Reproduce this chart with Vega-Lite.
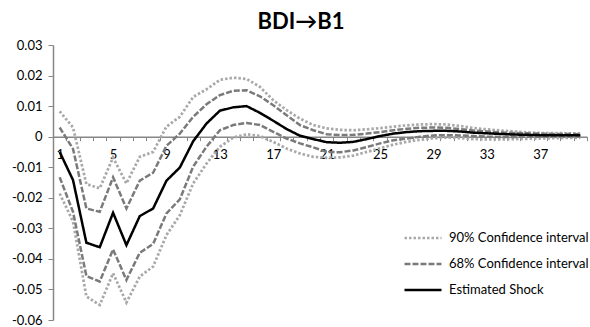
{
  "$schema": "https://vega.github.io/schema/vega-lite/v6.json",
  "width": 534,
  "height": 275,
  "autosize": {"type": "none"},
  "padding": {"left": 53, "top": 45, "right": 3, "bottom": 7},
  "background": "white",
  "title": {"text": "BDI→B1", "font": "Lato", "fontSize": 22, "fontWeight": "bold", "color": "black", "anchor": "middle", "frame": "group", "offset": 14, "baseline": "bottom", "dx": -19, "dy": 31},
  "config": {"view": {"stroke": null}, "font": "Lato"},
  "data": {"values": [
    {"t": 1, "s": -0.005, "u68": 0.003, "l68": -0.0133, "u90": 0.0083, "l90": -0.0186},
    {"t": 2, "s": -0.0142, "u68": -0.004, "l68": -0.0246, "u90": 0.003, "l90": -0.0278},
    {"t": 3, "s": -0.0347, "u68": -0.0235, "l68": -0.0456, "u90": -0.0155, "l90": -0.0523},
    {"t": 4, "s": -0.0362, "u68": -0.0246, "l68": -0.0474, "u90": -0.0169, "l90": -0.0551},
    {"t": 5, "s": -0.0249, "u68": -0.0133, "l68": -0.0369, "u90": -0.0068, "l90": -0.0447},
    {"t": 6, "s": -0.0355, "u68": -0.0235, "l68": -0.0469, "u90": -0.0153, "l90": -0.0543},
    {"t": 7, "s": -0.026, "u68": -0.0144, "l68": -0.038, "u90": -0.0066, "l90": -0.0458},
    {"t": 8, "s": -0.0235, "u68": -0.0118, "l68": -0.0351, "u90": -0.005, "l90": -0.0425},
    {"t": 9, "s": -0.0144, "u68": -0.003, "l68": -0.0251, "u90": 0.0033, "l90": -0.0322},
    {"t": 10, "s": -0.0101, "u68": 0.001, "l68": -0.0205, "u90": 0.0065, "l90": -0.0257},
    {"t": 11, "s": -0.0015, "u68": 0.0065, "l68": -0.0098, "u90": 0.013, "l90": -0.0153},
    {"t": 12, "s": 0.0043, "u68": 0.0106, "l68": -0.0033, "u90": 0.0155, "l90": -0.0088},
    {"t": 13, "s": 0.0085, "u68": 0.0136, "l68": 0.0021, "u90": 0.0186, "l90": -0.0033},
    {"t": 14, "s": 0.0096, "u68": 0.015, "l68": 0.0038, "u90": 0.0193, "l90": -0.0003},
    {"t": 15, "s": 0.01, "u68": 0.0152, "l68": 0.0045, "u90": 0.0189, "l90": 0.0008},
    {"t": 16, "s": 0.0078, "u68": 0.0132, "l68": 0.0038, "u90": 0.0163, "l90": 0.0002},
    {"t": 17, "s": 0.0052, "u68": 0.0103, "l68": 0.0016, "u90": 0.0119, "l90": -0.0017},
    {"t": 18, "s": 0.0025, "u68": 0.007, "l68": -0.0006, "u90": 0.0087, "l90": -0.0039},
    {"t": 19, "s": 0.0003, "u68": 0.0038, "l68": -0.0022, "u90": 0.0059, "l90": -0.0055},
    {"t": 20, "s": -0.0008, "u68": 0.0021, "l68": -0.0035, "u90": 0.0038, "l90": -0.0066},
    {"t": 21, "s": -0.0018, "u68": 0.0008, "l68": -0.005, "u90": 0.0027, "l90": -0.0069},
    {"t": 22, "s": -0.002, "u68": 0.0005, "l68": -0.0051, "u90": 0.0022, "l90": -0.0068},
    {"t": 23, "s": -0.0017, "u68": 0.0006, "l68": -0.0045, "u90": 0.0021, "l90": -0.0062},
    {"t": 24, "s": -0.0008, "u68": 0.001, "l68": -0.0034, "u90": 0.0024, "l90": -0.005},
    {"t": 25, "s": 0.0002, "u68": 0.0015, "l68": -0.0022, "u90": 0.0028, "l90": -0.0038},
    {"t": 26, "s": 0.001, "u68": 0.0021, "l68": -0.0012, "u90": 0.0033, "l90": -0.0026},
    {"t": 27, "s": 0.0015, "u68": 0.0026, "l68": -0.0006, "u90": 0.0037, "l90": -0.0017},
    {"t": 28, "s": 0.0018, "u68": 0.0029, "l68": 0.0, "u90": 0.004, "l90": -0.001},
    {"t": 29, "s": 0.0019, "u68": 0.003, "l68": 0.0004, "u90": 0.0041, "l90": -0.0005},
    {"t": 30, "s": 0.0019, "u68": 0.0029, "l68": 0.0005, "u90": 0.004, "l90": -0.0003},
    {"t": 31, "s": 0.0017, "u68": 0.0025, "l68": 0.0004, "u90": 0.0035, "l90": -0.0005},
    {"t": 32, "s": 0.0013, "u68": 0.002, "l68": 0.0002, "u90": 0.0028, "l90": -0.0008},
    {"t": 33, "s": 0.0011, "u68": 0.0017, "l68": 0.0, "u90": 0.0024, "l90": -0.0009},
    {"t": 34, "s": 0.0009, "u68": 0.0014, "l68": -0.0001, "u90": 0.002, "l90": -0.0009},
    {"t": 35, "s": 0.0007, "u68": 0.0012, "l68": -0.0001, "u90": 0.0017, "l90": -0.0008},
    {"t": 36, "s": 0.0006, "u68": 0.0011, "l68": 0.0, "u90": 0.0014, "l90": -0.0007},
    {"t": 37, "s": 0.0005, "u68": 0.001, "l68": 0.0, "u90": 0.0012, "l90": -0.0006},
    {"t": 38, "s": 0.0005, "u68": 0.0009, "l68": 0.0001, "u90": 0.0012, "l90": -0.0005},
    {"t": 39, "s": 0.0005, "u68": 0.0009, "l68": 0.0001, "u90": 0.0011, "l90": -0.0004},
    {"t": 40, "s": 0.0005, "u68": 0.0008, "l68": 0.0001, "u90": 0.0011, "l90": -0.0004}
  ]},
  "transform": [
    {"fold": ["u90", "l90", "u68", "l68", "s"], "as": ["key", "v"]},
    {"lookup": "key", "from": {"data": {"values": [
      {"key": "u90", "band": "90% Confidence interval"},
      {"key": "l90", "band": "90% Confidence interval"},
      {"key": "u68", "band": "68% Confidence interval"},
      {"key": "l68", "band": "68% Confidence interval"},
      {"key": "s", "band": "Estimated Shock"}
    ]}, "key": "key", "fields": ["band"]}}
  ],
  "encoding": {
    "x": {
      "field": "t", "type": "ordinal",
      "scale": {"type": "band", "paddingInner": 0, "paddingOuter": 0},
      "axis": {
        "title": null, "offset": -183.33, "orient": "bottom",
        "labelExpr": "(datum.value - 1) % 4 == 0 ? datum.label : ''",
        "labelOverlap": false, "labelAngle": 0, "tickBand": "extent",
        "tickSize": 4, "domainColor": "#868686", "tickColor": "#868686", "domainWidth": 1.5,
        "labelFontSize": 13, "labelColor": "black", "labelPadding": 8, "labelFont": "Lato"
      }
    },
    "y": {
      "field": "v", "type": "quantitative",
      "scale": {"domain": [-0.06, 0.03], "nice": false, "zero": false},
      "axis": {
        "title": null, "grid": false,
        "values": [-0.06, -0.05, -0.04, -0.03, -0.02, -0.01, 0, 0.01, 0.02, 0.03],
        "labelExpr": "datum.value == 0 ? '0' : replace(format(datum.value, '.2f'), '\u2212', '-')",
        "domainColor": "#868686", "tickColor": "#868686", "domainWidth": 1.5, "tickSize": 5,
        "labelFontSize": 13, "labelColor": "black", "labelPadding": 6, "labelFont": "Lato"
      }
    },
    "color": {
      "field": "band", "type": "nominal",
      "scale": {"domain": ["90% Confidence interval", "68% Confidence interval", "Estimated Shock"], "range": ["#a9a9a9", "#7a7a7a", "#000000"]},
      "legend": {
        "title": null, "orient": "none", "legendX": 350, "legendY": 185,
        "symbolType": "stroke", "symbolSize": 1369, "symbolStrokeWidth": 2.5,
        "labelFontSize": 13, "labelColor": "black", "labelOffset": 6, "labelFont": "Lato",
        "rowPadding": 10, "clipHeight": 16
      }
    },
    "strokeDash": {
      "field": "band", "type": "nominal",
      "scale": {"domain": ["90% Confidence interval", "68% Confidence interval", "Estimated Shock"], "range": [[2.5, 2], [6, 2], [1, 0]]},
      "legend": {
        "title": null, "orient": "none", "legendX": 350, "legendY": 185,
        "symbolType": "stroke", "symbolSize": 1369, "symbolStrokeWidth": 2.5,
        "labelFontSize": 13, "labelColor": "black", "labelOffset": 6, "labelFont": "Lato",
        "rowPadding": 10, "clipHeight": 16
      }
    },
    "detail": {"field": "key"}
  },
  "layer": [
    {"transform": [{"filter": "datum.band == '90% Confidence interval'"}], "mark": {"type": "line", "strokeWidth": 2.75}},
    {"transform": [{"filter": "datum.band == '68% Confidence interval'"}], "mark": {"type": "line", "strokeWidth": 2.5}},
    {"transform": [{"filter": "datum.band == 'Estimated Shock'"}], "mark": {"type": "line", "strokeWidth": 2.5}}
  ]
}
